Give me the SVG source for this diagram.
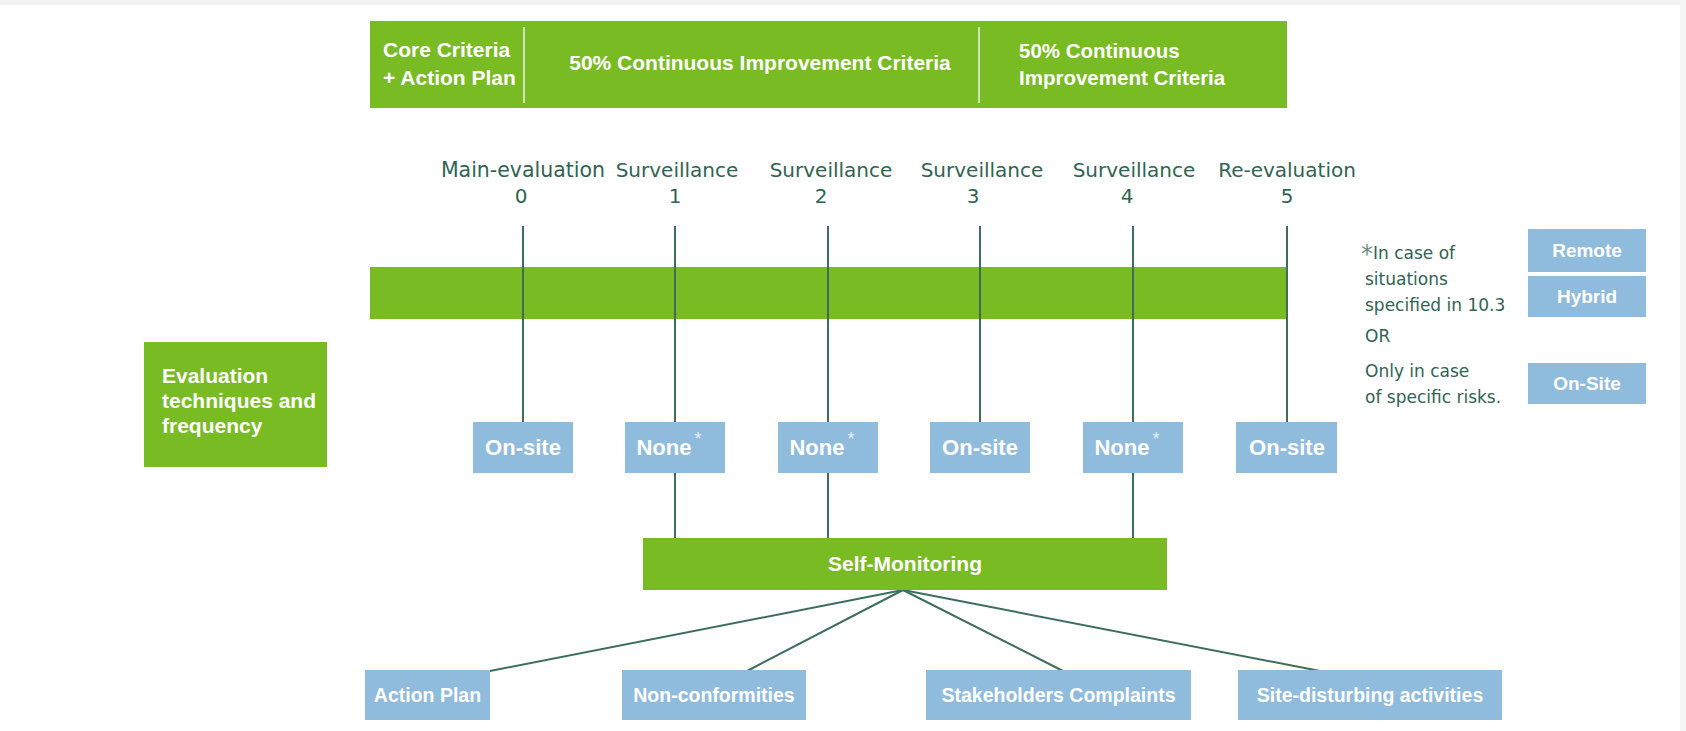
<svg xmlns="http://www.w3.org/2000/svg" width="1686" height="731" viewBox="0 0 1686 731">
<style>
.g{fill:#79bb22}
.b{fill:#8fbbdd}
.wt{font-family:"Liberation Sans",Arial,sans-serif;font-weight:bold;fill:#ffffff}
.dt{font-family:"DejaVu Sans","Liberation Sans",sans-serif;fill:#2f6453}
.ln{stroke:#3d6e5d;stroke-width:2;fill:none}
.dv{stroke:#cfe6b4;stroke-width:2}
.st{fill:#e4eef8;font-weight:normal}
</style>
<rect x="0" y="0" width="1686" height="731" fill="#ffffff"/>
<rect x="0" y="0" width="1686" height="5" fill="#f3f3f3"/>
<rect x="1680" y="0" width="6" height="731" fill="#f5f5f5"/>

<g id="connectors">
  <line class="ln" x1="523" y1="226" x2="523" y2="422"/>
  <line class="ln" x1="675" y1="226" x2="675" y2="422"/>
  <line class="ln" x1="828" y1="226" x2="828" y2="422"/>
  <line class="ln" x1="980" y1="226" x2="980" y2="422"/>
  <line class="ln" x1="1133" y1="226" x2="1133" y2="422"/>
  <line class="ln" x1="1287" y1="226" x2="1287" y2="422"/>
  <line class="ln" x1="675" y1="473" x2="675" y2="538"/>
  <line class="ln" x1="828" y1="473" x2="828" y2="538"/>
  <line class="ln" x1="1133" y1="473" x2="1133" y2="538"/>
  <line class="ln" x1="903" y1="590" x2="490" y2="671"/>
  <line class="ln" x1="903" y1="590" x2="747" y2="671"/>
  <line class="ln" x1="903" y1="590" x2="1063" y2="671"/>
  <line class="ln" x1="903" y1="590" x2="1320" y2="671"/>
</g>

<g id="criteria-bar">
  <rect class="g" x="370" y="21" width="917" height="87"/>
  <line class="dv" x1="524" y1="27" x2="524" y2="103"/>
  <line class="dv" x1="979" y1="27" x2="979" y2="103"/>
  <text class="wt" font-size="21" x="383" y="57">Core Criteria</text>
  <text class="wt" font-size="21" x="383" y="85">+ Action Plan</text>
  <text class="wt" font-size="21" x="760" y="70" text-anchor="middle">50% Continuous Improvement Criteria</text>
  <text class="wt" font-size="20.5" x="1019" y="58">50% Continuous</text>
  <text class="wt" font-size="20.5" x="1019" y="85">Improvement Criteria</text>
</g>

<g id="milestones">
  <text class="dt" font-size="20.5" x="523" y="177" text-anchor="middle">Main-evaluation</text>
  <text class="dt" font-size="20" x="521" y="203" text-anchor="middle">0</text>
  <text class="dt" font-size="20" x="677" y="177" text-anchor="middle">Surveillance</text>
  <text class="dt" font-size="20" x="675" y="203" text-anchor="middle">1</text>
  <text class="dt" font-size="20" x="831" y="177" text-anchor="middle">Surveillance</text>
  <text class="dt" font-size="20" x="821" y="203" text-anchor="middle">2</text>
  <text class="dt" font-size="20" x="982" y="177" text-anchor="middle">Surveillance</text>
  <text class="dt" font-size="20" x="973" y="203" text-anchor="middle">3</text>
  <text class="dt" font-size="20" x="1134" y="177" text-anchor="middle">Surveillance</text>
  <text class="dt" font-size="20" x="1127" y="203" text-anchor="middle">4</text>
  <text class="dt" font-size="20" x="1287" y="177" text-anchor="middle">Re-evaluation</text>
  <text class="dt" font-size="20" x="1287" y="203" text-anchor="middle">5</text>
</g>

<g id="timeline-bar">
  <rect class="g" x="370" y="267" width="917" height="52"/>
  <line class="ln" x1="523" y1="267" x2="523" y2="319"/>
  <line class="ln" x1="675" y1="267" x2="675" y2="319"/>
  <line class="ln" x1="828" y1="267" x2="828" y2="319"/>
  <line class="ln" x1="980" y1="267" x2="980" y2="319"/>
  <line class="ln" x1="1133" y1="267" x2="1133" y2="319"/>
  <line class="ln" x1="1287" y1="267" x2="1287" y2="319"/>
</g>

<g id="evaluation-techniques">
  <rect class="g" x="144" y="342" width="183" height="125"/>
  <text class="wt" font-size="21" x="162" y="383">Evaluation</text>
  <text class="wt" font-size="21" x="162" y="408">techniques and</text>
  <text class="wt" font-size="21" x="162" y="433">frequency</text>
</g>

<g id="eval-0">
  <rect class="b" x="473" y="422" width="100" height="51"/>
  <text class="wt" font-size="22" x="523" y="455" text-anchor="middle">On-site</text>
</g>
<g id="eval-1">
  <rect class="b" x="625" y="422" width="100" height="51"/>
  <text class="wt" font-size="22" x="669" y="455" text-anchor="middle">None<tspan class="st" font-size="18" dx="3" dy="-10">*</tspan></text>
</g>
<g id="eval-2">
  <rect class="b" x="778" y="422" width="100" height="51"/>
  <text class="wt" font-size="22" x="822" y="455" text-anchor="middle">None<tspan class="st" font-size="18" dx="3" dy="-10">*</tspan></text>
</g>
<g id="eval-3">
  <rect class="b" x="930" y="422" width="100" height="51"/>
  <text class="wt" font-size="22" x="980" y="455" text-anchor="middle">On-site</text>
</g>
<g id="eval-4">
  <rect class="b" x="1083" y="422" width="100" height="51"/>
  <text class="wt" font-size="22" x="1127" y="455" text-anchor="middle">None<tspan class="st" font-size="18" dx="3" dy="-10">*</tspan></text>
</g>
<g id="eval-5">
  <rect class="b" x="1236" y="422" width="101" height="51"/>
  <text class="wt" font-size="22" x="1287" y="455" text-anchor="middle">On-site</text>
</g>

<g id="legend">
  <text class="dt" font-size="17" x="1361" y="259"><tspan font-size="24" fill="#6a9284" dy="3">*</tspan><tspan dy="-3">In case of</tspan></text>
  <text class="dt" font-size="17" x="1365" y="285">situations</text>
  <text class="dt" font-size="17" x="1365" y="311">specified in 10.3</text>
  <text class="dt" font-size="17" x="1365" y="342">OR</text>
  <text class="dt" font-size="17" x="1365" y="377">Only in case</text>
  <text class="dt" font-size="17" x="1365" y="403">of specific risks.</text>
</g>
<g id="legend-remote">
  <rect class="b" x="1528" y="229" width="118" height="43"/>
  <text class="wt" font-size="19" x="1587" y="257" text-anchor="middle">Remote</text>
</g>
<g id="legend-hybrid">
  <rect class="b" x="1528" y="276" width="118" height="41"/>
  <text class="wt" font-size="19" x="1587" y="303" text-anchor="middle">Hybrid</text>
</g>
<g id="legend-onsite">
  <rect class="b" x="1528" y="363" width="118" height="41"/>
  <text class="wt" font-size="19" x="1587" y="390" text-anchor="middle">On-Site</text>
</g>

<g id="self-monitoring">
  <rect class="g" x="643" y="538" width="524" height="52"/>
  <text class="wt" font-size="21" x="905" y="571" text-anchor="middle">Self-Monitoring</text>
</g>

<g id="action-plan">
  <rect class="b" x="365" y="670" width="125" height="50"/>
  <text class="wt" font-size="19.5" x="427.5" y="702" text-anchor="middle">Action Plan</text>
</g>
<g id="non-conformities">
  <rect class="b" x="622" y="670" width="184" height="50"/>
  <text class="wt" font-size="19.5" x="714" y="702" text-anchor="middle">Non-conformities</text>
</g>
<g id="stakeholders-complaints">
  <rect class="b" x="926" y="670" width="265" height="50"/>
  <text class="wt" font-size="19.5" x="1058.5" y="702" text-anchor="middle">Stakeholders Complaints</text>
</g>
<g id="site-disturbing">
  <rect class="b" x="1238" y="670" width="264" height="50"/>
  <text class="wt" font-size="19.5" x="1370" y="702" text-anchor="middle">Site-disturbing activities</text>
</g>
</svg>
